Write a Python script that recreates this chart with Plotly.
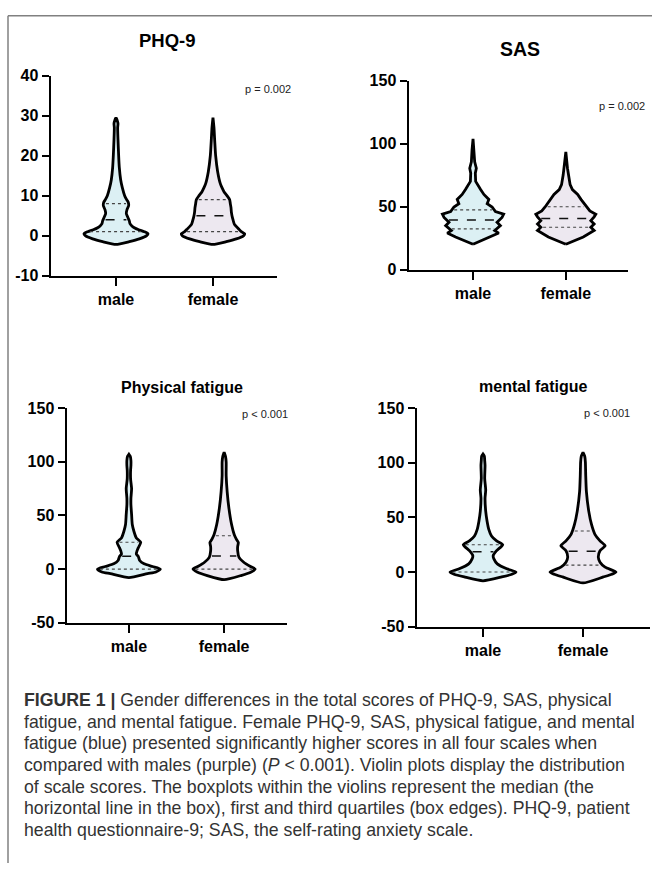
import numpy as np
import plotly.graph_objects as go

W, H = 652, 872

groups = ["male", "female"]

# ---------------- data (value levels and relative violin widths) ---------------
# PHQ-9
phq_male_levels = [-2.2, -1.5, -0.8, 0, 0.5, 1, 1.5, 2, 2.5, 3, 3.7, 4.5, 5.5, 6.5, 7.5, 8.3, 9, 10, 12, 14, 17, 20, 24, 27, 28, 29, 29.5]
phq_male_width = [0, 40, 70, 92, 96, 85, 68, 55, 47, 42, 40, 36, 31, 33, 38, 37, 32, 26, 19, 14, 10, 8, 6, 5, 6, 3, 0]
phq_female_levels = [-2.2, -1.5, -0.8, 0, 0.5, 1, 1.6, 2.9, 4, 5, 6, 7, 8, 9, 10, 11, 12, 13, 16, 20, 24, 27, 29.5]
phq_female_width = [0, 40, 70, 92, 95, 85, 78, 64, 60, 57, 55, 54, 52, 50, 42, 33, 27, 22, 14, 8, 5, 3, 0]
phq_male_quart = [1, 4, 8]
phq_female_quart = [1, 5, 9]

# SAS
sas_male_levels = [20.2, 26, 29.1, 31.1, 35, 37.6, 41.5, 44.1, 46.2, 49.8, 52.4, 55.8, 59.7, 63.6, 66.2, 70.1, 76.6, 80.5, 85.6, 95, 103.8]
sas_male_width = [0, 53, 78, 66, 83, 73, 88, 93, 68, 58, 43, 48, 33, 23, 16, 8, 7, 10, 5, 3, 0]
sas_female_levels = [20.2, 26, 31.1, 33.7, 36.3, 38.9, 42, 44.1, 46.7, 49.8, 52.7, 55.8, 59.7, 63.6, 67.5, 75.3, 80.5, 93.4]
sas_female_width = [0, 53, 86, 76, 86, 76, 86, 91, 73, 63, 53, 46, 36, 20, 13, 8, 5, 0]
sas_male_quart = [32.4, 39.5, 47.5]
sas_female_quart = [33.7, 40.7, 50]

# Physical fatigue
phys_male_levels = [-8, -4.3, -2.7, 0, 2.4, 4.9, 8, 11.6, 14, 17, 20, 25, 29, 35, 41.5, 50.7, 60, 66, 75, 84, 92, 96.5, 101, 105, 107]
phys_male_width = [0, 55, 80, 93, 70, 45, 32, 28, 22, 24, 28, 35, 22, 15, 10, 8, 6, 6, 8, 5, 5, 6, 6, 4, 0]
phys_female_levels = [-9.8, -6, -2.7, 0, 2.4, 6.4, 11, 17, 21, 24.7, 28, 32, 41.5, 57, 72, 87, 99.6, 105, 108.8]
phys_female_width = [0, 50, 80, 92, 78, 58, 44, 40, 40, 42, 36, 30, 22, 14, 9, 6, 6, 4, 0]
phys_male_quart = [0, 12, 25]
phys_female_quart = [0, 12.2, 31]

# Mental fatigue
ment_male_levels = [-8, -4.5, -2, 0, 3, 7.5, 12, 15, 19.5, 25, 28.5, 33, 39, 46.5, 55.5, 67.5, 75, 85.5, 97.5, 102, 106, 108]
ment_male_width = [0, 55, 85, 97, 70, 42, 32, 30, 40, 58, 40, 25, 17, 12, 8, 6, 8, 5, 6, 5, 4, 0]
ment_female_levels = [-10, -4.5, -2, 0, 4.5, 9, 13.5, 19.5, 24, 28.5, 34.5, 43.5, 55.5, 73.5, 88.5, 100.5, 106, 109.5]
ment_female_width = [0, 60, 85, 97, 65, 50, 45, 50, 65, 50, 35, 25, 17, 10, 8, 7, 5, 0]
ment_male_quart = [0, 18.6, 25]
ment_female_quart = [6.3, 19, 37.5]

titles = ["PHQ-9", "SAS", "Physical fatigue", "mental fatigue"]
p_values = ["p = 0.002", "p = 0.002", "p &lt; 0.001", "p &lt; 0.001"]

caption_lines = [
    "<b>FIGURE 1 |</b> Gender differences in the total scores of PHQ-9, SAS, physical",
    "fatigue, and mental fatigue. Female PHQ-9, SAS, physical fatigue, and mental",
    "fatigue (blue) presented significantly higher scores in all four scales when",
    "compared with males (purple) (<i>P</i> &lt; 0.001). Violin plots display the distribution",
    "of scale scores. The boxplots within the violins represent the median (the",
    "horizontal line in the box), first and third quartiles (box edges). PHQ-9, patient",
    "health questionnaire-9; SAS, the self-rating anxiety scale.",
]

# ---------------- styling / layout ----------------
MALE_FILL = "#dcf0f4"
FEMALE_FILL = "#ede8f0"
FONT = "Liberation Sans"
MAX_HALF = 0.33

panels = [
    dict(px=(51, 277), py=(69, 273), yr=(-10, 40), yt=[-10, 0, 10, 20, 30, 40], xr=(-0.67, 1.66),
         data=[(phq_male_levels, phq_male_width, phq_male_quart), (phq_female_levels, phq_female_width, phq_female_quart)],
         spline=True, title_pos=(167, 33), title_size=18.5, p_pos=(268, 83)),
    dict(px=(409, 628), py=(74, 267), yr=(0, 150), yt=[0, 50, 100, 150], xr=(-0.69, 1.67),
         data=[(sas_male_levels, sas_male_width, sas_male_quart), (sas_female_levels, sas_female_width, sas_female_quart)],
         spline=False, title_pos=(520, 42), title_size=19.5, p_pos=(622, 100)),
    dict(px=(67, 287), py=(408, 627), yr=(-50, 150), yt=[-50, 0, 50, 100, 150], xr=(-0.65, 1.66),
         data=[(phys_male_levels, phys_male_width, phys_male_quart), (phys_female_levels, phys_female_width, phys_female_quart)],
         spline=True, title_pos=(182, 387), title_size=16, p_pos=(265, 414)),
    dict(px=(417, 650), py=(408, 631), yr=(-50, 150), yt=[-50, 0, 50, 100, 150], xr=(-0.66, 1.67),
         data=[(ment_male_levels, ment_male_width, ment_male_quart), (ment_female_levels, ment_female_width, ment_female_quart)],
         spline=True, title_pos=(533, 386), title_size=16, p_pos=(607, 413)),
]

fig = go.Figure()
annotations = []
layout = {}

for i, pnl in enumerate(panels):
    sfx = "" if i == 0 else str(i + 1)
    xa, ya = "x" + sfx, "y" + sfx
    wmax = max(max(d[1]) for d in pnl["data"])
    for c, (lv, wd, qs) in enumerate(pnl["data"]):
        lv = np.array(lv, dtype=float)
        hw = np.array(wd, dtype=float) / wmax * MAX_HALF
        xs = np.concatenate([c + hw, (c - hw)[::-1]])
        ys = np.concatenate([lv, lv[::-1]])
        fig.add_trace(go.Scatter(
            x=xs, y=ys, xaxis=xa, yaxis=ya, mode="lines", fill="toself",
            fillcolor=MALE_FILL if c == 0 else FEMALE_FILL,
            line=dict(color="black", width=2.8,
                      shape="spline" if pnl["spline"] else "linear", smoothing=0.6),
            hoverinfo="skip", showlegend=False))
        for k, q in enumerate(qs):
            hq = max(np.interp(q, lv, hw) - 0.025, 0.02)
            fig.add_trace(go.Scatter(
                x=[c - hq, c + hq], y=[q, q], xaxis=xa, yaxis=ya, mode="lines",
                line=dict(color="#111" if k == 1 else "#444", width=1.5 if k == 1 else 1.1,
                          dash="dash" if k == 1 else "dot"),
                hoverinfo="skip", showlegend=False))

    x0, x1 = pnl["px"]
    y0, y1 = pnl["py"]
    layout["xaxis" + sfx] = dict(
        domain=[x0 / W, x1 / W], range=list(pnl["xr"]), anchor=ya,
        tickvals=[0, 1], ticktext=groups, showline=True, linewidth=2.5, linecolor="black",
        ticks="outside", ticklen=8, tickwidth=2, tickcolor="black",
        showgrid=False, zeroline=False, fixedrange=True,
        tickfont=dict(family=FONT, size=16, color="black", weight="bold"))
    layout["yaxis" + sfx] = dict(
        domain=[1 - y1 / H, 1 - y0 / H], range=list(pnl["yr"]), anchor=xa,
        tickvals=pnl["yt"], ticktext=[str(v) for v in pnl["yt"]],
        showline=True, linewidth=2.5, linecolor="black",
        ticks="outside", ticklen=7, tickwidth=2, tickcolor="black",
        showgrid=False, zeroline=False, fixedrange=True,
        tickfont=dict(family=FONT, size=16, color="black", weight="bold"))
    tx, ty = pnl["title_pos"]
    annotations.append(dict(text="<b>%s</b>" % titles[i], x=tx / W, y=1 - ty / H,
                            xref="paper", yref="paper", showarrow=False,
                            xanchor="center", yanchor="middle",
                            font=dict(family=FONT, size=pnl["title_size"], color="black")))
    qx, qy = pnl["p_pos"]
    annotations.append(dict(text=p_values[i], x=qx / W, y=1 - qy / H,
                            xref="paper", yref="paper", showarrow=False,
                            xanchor="center", yanchor="middle",
                            font=dict(family=FONT, size=11, color="#222")))

for j, line in enumerate(caption_lines):
    annotations.append(dict(text=line, x=22 / W, y=1 - (706 + j * 22) / H,
                            xref="paper", yref="paper", showarrow=False,
                            xanchor="left", yanchor="middle",
                            font=dict(family=FONT, size=17.7, color="#333")))

shapes = [
    dict(type="line", xref="paper", yref="paper", x0=8 / W, x1=1, y0=1 - 8 / H, y1=1 - 8 / H,
         line=dict(color="#808080", width=1.5)),
    dict(type="line", xref="paper", yref="paper", x0=8 / W, x1=8 / W, y0=0, y1=1 - 8 / H,
         line=dict(color="#808080", width=1.5)),
]

fig.update_layout(width=W, height=H, margin=dict(l=0, r=0, t=0, b=0),
                  paper_bgcolor="white", plot_bgcolor="rgba(0,0,0,0)",
                  annotations=annotations, shapes=shapes, showlegend=False, **layout)

fig.write_html("out.html",
               config={"displayModeBar": False, "staticPlot": True},
               post_script="document.body.style.margin='0';document.body.style.padding='0';"
                           "document.documentElement.style.overflow='hidden';")
